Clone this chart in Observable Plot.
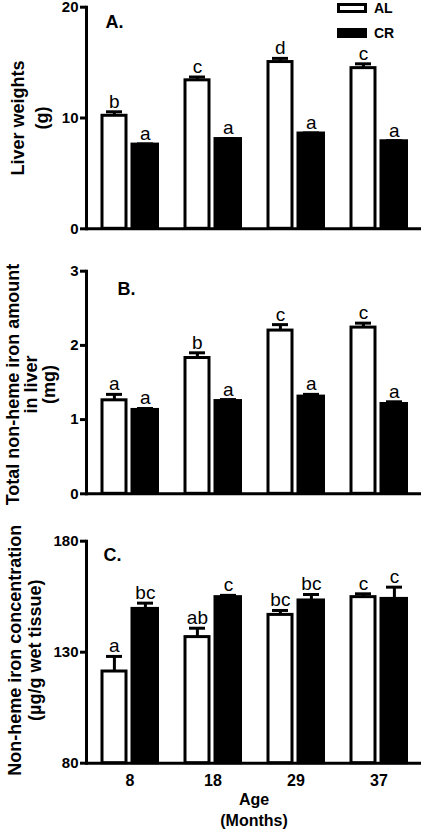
<!DOCTYPE html>
<html>
<head>
<meta charset="utf-8">
<script src="https://cdn.jsdelivr.net/npm/d3@7"></script>
<script src="https://cdn.jsdelivr.net/npm/@observablehq/plot@0.6"></script>
<style>
  html, body { margin: 0; padding: 0; background: #fff; overflow: hidden; }
  #wrap { position: relative; width: 423px; height: 832px; }
  #wrap svg { display: block; }
  .legend { position: absolute; left: 337px; top: 3px; font: bold 14px 'Liberation Sans', Arial, sans-serif; }
  .legend .row { position: relative; height: 25px; }
  .legend .sw { position: absolute; left: 0; top: 0; width: 30px; height: 10px; box-sizing: border-box; border: 3px solid #000; }
  .legend .lb { position: absolute; left: 37px; top: -3px; line-height: 16px; }
</style>
</head>
<body>
<div id="wrap"></div>
<script>
// ---- data ----
const ages = ["8", "18", "29", "37"];
const diets = ["AL", "CR"];

const liverAL = [10.2, 13.4, 15.05, 14.5];
const liverALerr = [0.36, 0.3, 0.33, 0.39];
const liverALlet = ["b", "c", "d", "c"];
const liverCR = [7.6, 8.1, 8.6, 7.9];
const liverCRerr = [0.06, 0.05, 0.05, 0.05];
const liverCRlet = ["a", "a", "a", "a"];

const ironAL = [1.26, 1.83, 2.2, 2.24];
const ironALerr = [0.08, 0.07, 0.08, 0.06];
const ironALlet = ["a", "b", "c", "c"];
const ironCR = [1.13, 1.25, 1.31, 1.21];
const ironCRerr = [0.02, 0.02, 0.03, 0.03];
const ironCRlet = ["a", "a", "a", "a"];

const concAL = [121.3, 136.8, 146.8, 154.8];
const concALerr = [6.8, 4.0, 2.0, 1.5];
const concALlet = ["a", "ab", "bc", "c"];
const concCR = [149.5, 154.8, 153.3, 154.0];
const concCRerr = [2.6, 0.8, 2.7, 5.3];
const concCRlet = ["bc", "c", "bc", "c"];

const liverTicks = [0, 10, 20];
const ironTicks = [0, 1, 2, 3];
const concTicks = [80, 130, 180];

const rowsOf = (vals, errs, lets) => ages.map((age, i) => ({age, value: vals[i], err: errs[i], letter: lets[i]}));

const FONT = "'Liberation Sans', Arial, Helvetica, sans-serif";

function panel({height, mt, mb, yTicks, al, cr, tag, tagDx, tagDy, ylabel, lh, ldx, ldy, showX}) {
  const y0 = yTicks[0], yN = yTicks[yTicks.length - 1];
  const top = d => d.value + d.err;
  const marks = [
    Plot.barY(al, {x: "age", y1: y0, y2: "value", fill: "white", stroke: "black", strokeWidth: 3, insetLeft: 2, insetRight: 33}),
    Plot.barY(cr, {x: "age", y1: y0, y2: "value", fill: "black", stroke: "black", strokeWidth: 3, insetLeft: 32, insetRight: 1.5}),
    Plot.ruleX(al, {x: "age", y1: "value", y2: top, dx: -15.6, stroke: "black", strokeWidth: 3}),
    Plot.ruleX(cr, {x: "age", y1: "value", y2: top, dx: 15.4, stroke: "black", strokeWidth: 3}),
    Plot.tickY(al, {x: "age", y: top, insetLeft: 6, insetRight: 37, stroke: "black", strokeWidth: 3}),
    Plot.tickY(cr, {x: "age", y: top, insetLeft: 37, insetRight: 6, stroke: "black", strokeWidth: 3}),
    Plot.text(al, {x: "age", y: top, text: "letter", dx: -15.6, dy: -4, lineAnchor: "bottom", fontSize: 19, fontWeight: "normal"}),
    Plot.text(cr, {x: "age", y: top, text: "letter", dx: 15.4, dy: -4, lineAnchor: "bottom", fontSize: 19, fontWeight: "normal"}),
    Plot.ruleY([y0], {stroke: "black", strokeWidth: 3}),
    Plot.frame({anchor: "left", stroke: "black", strokeWidth: 3}),
    Plot.axisY({ticks: yTicks, tickSize: 6, tickPadding: 2, strokeWidth: 3, label: null, tickFormat: d => String(d), fontSize: 15}),
    Plot.text([tag], {frameAnchor: "top-left", dx: tagDx, dy: tagDy, textAnchor: "start", lineAnchor: "top", fontSize: 18}),
    Plot.text([ylabel], {frameAnchor: "left", rotate: -90, dx: ldx, dy: ldy, lineAnchor: "middle", textAnchor: "middle", lineHeight: lh, fontSize: 18})
  ];
  if (showX) {
    marks.push(Plot.axisX({tickSize: 0, tickPadding: 11, label: null, fontSize: 16}));
    marks.push(Plot.text(["Age\n(Months)"], {frameAnchor: "bottom", dy: 27, lineAnchor: "top", lineHeight: 1.3, fontSize: 16}));
  }
  return Plot.plot({
    width: 423,
    height,
    marginTop: mt,
    marginBottom: mb,
    marginLeft: 86,
    marginRight: 2,
    style: {fontFamily: FONT, fontSize: "15px", fontWeight: "bold", color: "black", background: "transparent", overflow: "visible"},
    x: {domain: ages, paddingInner: 0.29, paddingOuter: 0.15, axis: showX ? undefined : null},
    y: {domain: [y0, yN], axis: null},
    marks
  });
}

const wrap = document.getElementById("wrap");

wrap.appendChild(panel({
  height: 250, mt: 6.7, mb: 21.7, yTicks: liverTicks,
  al: rowsOf(liverAL, liverALerr, liverALlet), cr: rowsOf(liverCR, liverCRerr, liverCRlet),
  tag: "A.", tagDx: 19, tagDy: 8,
  ylabel: "Liver weights\n(g)", lh: 1.33, ldx: -58, ldy: 0
}));
wrap.appendChild(panel({
  height: 270, mt: 20.7, mb: 26.7, yTicks: ironTicks,
  al: rowsOf(ironAL, ironALerr, ironALlet), cr: rowsOf(ironCR, ironCRerr, ironCRlet),
  tag: "B.", tagDx: 31, tagDy: 11,
  ylabel: "Total non-heme iron amount\nin liver\n(mg)", lh: 1.0, ldx: -55, ldy: 2
}));
wrap.appendChild(panel({
  height: 312, mt: 20.7, mb: 69.3, yTicks: concTicks,
  al: rowsOf(concAL, concALerr, concALlet), cr: rowsOf(concCR, concCRerr, concCRlet),
  tag: "C.", tagDx: 17, tagDy: 7,
  ylabel: "Non-heme iron concentration\n(µg/g wet tissue)", lh: 1.1, ldx: -62, ldy: -2, showX: true
}));

// legend (HTML, built from the diet list)
const legend = document.createElement("div");
legend.className = "legend";
diets.forEach((d, i) => {
  const row = document.createElement("div");
  row.className = "row";
  const sw = document.createElement("div");
  sw.className = "sw";
  sw.style.background = i === 0 ? "white" : "black";
  const lb = document.createElement("div");
  lb.className = "lb";
  lb.textContent = d;
  row.appendChild(sw);
  row.appendChild(lb);
  legend.appendChild(row);
});
wrap.appendChild(legend);
</script>
</body>
</html>
